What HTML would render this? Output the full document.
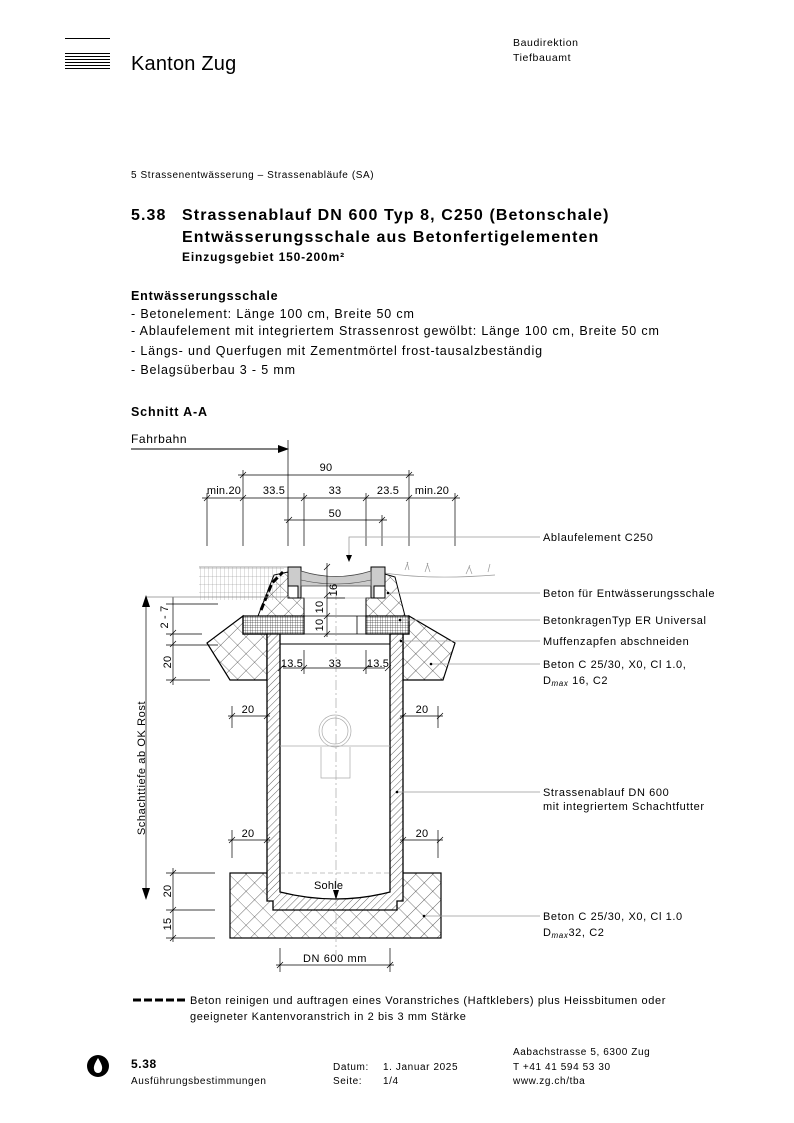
<!DOCTYPE html>
<html><head><meta charset="utf-8"><style>
body{margin:0;background:#fff}
svg{display:block}
text{font-family:"Liberation Sans",sans-serif;fill:#000;letter-spacing:0.6px}
.t16{letter-spacing:1.1px}
.t12{letter-spacing:0.85px}
.dim{letter-spacing:0.2px}
</style></head><body>
<svg width="794" height="1123" viewBox="0 0 794 1123" xmlns="http://www.w3.org/2000/svg">
<defs>
<pattern id="cross" width="12" height="12" patternUnits="userSpaceOnUse" patternTransform="rotate(45)">
<path d="M0 0H12M0 0V12" stroke="#000" stroke-width="0.6"/></pattern>
<pattern id="diag" width="5" height="5" patternUnits="userSpaceOnUse" patternTransform="rotate(45)">
<path d="M0 0V5" stroke="#000" stroke-width="0.6"/></pattern>
<pattern id="grid" width="2.5" height="2.5" patternUnits="userSpaceOnUse">
<path d="M0 0H2.5M0 0V2.5" stroke="#000" stroke-width="0.5"/></pattern>
<pattern id="vert" width="4" height="8" patternUnits="userSpaceOnUse">
<path d="M0 0V8M0 0H4" stroke="#888" stroke-width="0.5"/></pattern>
</defs>
<g stroke="#000" stroke-width="1">
<line x1="65" y1="38.5" x2="110" y2="38.5"/>
<line x1="65" y1="53.5" x2="110" y2="53.5"/><line x1="65" y1="56.5" x2="110" y2="56.5"/>
<line x1="65" y1="59.5" x2="110" y2="59.5"/><line x1="65" y1="62.5" x2="110" y2="62.5"/>
<line x1="65" y1="65.5" x2="110" y2="65.5"/><line x1="65" y1="68.5" x2="110" y2="68.5"/>
</g>
<text x="131" y="70" font-size="20" style="letter-spacing:0.2px">Kanton Zug</text>
<text x="513" y="46" font-size="10.5">Baudirektion</text>
<text x="513" y="61" font-size="10.5">Tiefbauamt</text>
<text x="131" y="178" font-size="10">5 Strassenentwässerung – Strassenabläufe (SA)</text>
<text x="131" y="220" font-size="16" font-weight="bold" class="t16">5.38</text>
<text x="182" y="220" font-size="16" font-weight="bold" class="t16">Strassenablauf DN 600 Typ 8, C250 (Betonschale)</text>
<text x="182" y="242" font-size="16" font-weight="bold" class="t16">Entwässerungsschale aus Betonfertigelementen</text>
<text x="182" y="261" font-size="12" font-weight="bold" class="t12">Einzugsgebiet 150-200m²</text>
<text x="131" y="300" font-size="12.5" font-weight="bold" class="t12">Entwässerungsschale</text>
<text x="131" y="318" font-size="12.5" class="t12">-  Betonelement: Länge 100 cm, Breite 50 cm</text>
<text x="131" y="335" font-size="12.5" class="t12">-  Ablaufelement mit integriertem Strassenrost gewölbt: Länge 100 cm, Breite 50 cm</text>
<text x="131" y="355" font-size="12.5" class="t12">-  Längs- und Querfugen mit Zementmörtel frost-tausalzbeständig</text>
<text x="131" y="374" font-size="12.5" class="t12">-  Belagsüberbau 3 - 5 mm</text>
<text x="131" y="416" font-size="12.5" font-weight="bold" class="t12">Schnitt A-A</text>
<text x="131" y="443" font-size="12">Fahrbahn</text>
<line x1="131" y1="449" x2="288" y2="449" stroke="#000"/>
<path d="M278 445L289 449L278 453Z"/>
<line x1="288" y1="440" x2="288" y2="546" stroke="#000" stroke-width="0.7"/>

<g stroke="#000" stroke-width="0.7" fill="none">
<line x1="238" y1="475" x2="414" y2="475"/>
<line x1="202" y1="498" x2="460" y2="498"/>
<line x1="284" y1="520" x2="387" y2="520"/>
<line x1="243" y1="470" x2="243" y2="546"/><line x1="409" y1="470" x2="409" y2="546"/>
<line x1="207" y1="493" x2="207" y2="546"/><line x1="304" y1="493" x2="304" y2="546"/>
<line x1="366" y1="493" x2="366" y2="546"/><line x1="455" y1="493" x2="455" y2="546"/>
<line x1="382" y1="515" x2="382" y2="546"/>
<path d="M240 478l6-6M406 478l6-6M204 501l6-6M240 501l6-6M301 501l6-6M363 501l6-6M406 501l6-6M452 501l6-6M286 523l6-6M379 523l6-6"/>
</g>
<g font-size="11" text-anchor="middle" class="dim">
<text x="326" y="471" class="dim">90</text>
<text x="224" y="494" class="dim">min.20</text><text x="274" y="494" class="dim">33.5</text>
<text x="335" y="494" class="dim">33</text><text x="388" y="494" class="dim">23.5</text><text x="432" y="494" class="dim">min.20</text>
<text x="335" y="517" class="dim">50</text>
</g>

<rect x="199" y="567" width="85" height="33" fill="url(#vert)"/>
<line x1="199" y1="567" x2="288" y2="567" stroke="#888" stroke-width="0.7"/>
<path d="M385 573 Q430 580 495 575" stroke="#999" fill="none" stroke-width="0.7"/>
<g stroke="#999" stroke-width="0.7" fill="none"><path d="M405 570l3-8M409 570l-2-8M425 572l3-9M430 572l-3-9M466 574l4-9M472 574l-3-8M488 572l2-8"/></g>

<path d="M258 616 L274 575 L288 572 L288 598 L304 598 L304 616Z" fill="url(#cross)" stroke="#000" stroke-width="1"/>
<path d="M405 616 L395 577 L385 574 L385 598 L366 598 L366 616Z" fill="url(#cross)" stroke="#000" stroke-width="1"/>
<path d="M261 610 L272 583 L283 572" stroke="#000" stroke-width="3" stroke-dasharray="7 3" fill="none"/>
<path d="M288 567h13v31h-3v-12h-10z" fill="#ccc" stroke="#000"/>
<path d="M385 567h-14v31h3v-12h11z" fill="#ccc" stroke="#000"/>
<path d="M301 571 Q336 582 371 571 L371 586 L301 586Z" fill="#ccc" stroke="#444" stroke-width="0.7"/>
<path d="M301 580 Q336 588 371 580" stroke="#444" fill="none" stroke-width="0.6"/>
<line x1="301" y1="598" x2="371" y2="598" stroke="#888" stroke-width="0.5"/>

<path d="M243 616 L207 643 L230 680 L267 680 L267 634 L243 634Z" fill="url(#cross)" stroke="#000" stroke-width="1.2"/>
<path d="M409 616 L455 643 L443 680 L403 680 L403 634 L409 634Z" fill="url(#cross)" stroke="#000" stroke-width="1.2"/>
<rect x="243" y="616" width="61" height="18" fill="url(#grid)" stroke="#000" stroke-width="1.2"/>
<rect x="366" y="616" width="43" height="18" fill="url(#grid)" stroke="#000" stroke-width="1.2"/>
<path d="M304 616H366M304 634H366M357 616V634" stroke="#000" stroke-width="0.8"/>

<rect x="230" y="873" width="211" height="65" fill="url(#cross)" stroke="#000" stroke-width="1.2"/>
<!-- shaft interior white -->
<path d="M280 644 H390 V892 Q336 906 280 892Z" fill="#fff"/>
<path d="M267 634 H280 V892 Q336 906 390 892 V634 H403 V901 H397 V910 H273 V901 H267Z" fill="#fff" stroke="none"/>
<path d="M267 634 H280 V892 Q336 906 390 892 V634 H403 V901 H397 V910 H273 V901 H267Z" fill="url(#diag)" stroke="#000" stroke-width="1.3"/>
<line x1="280" y1="644" x2="390" y2="644" stroke="#000" stroke-width="1"/>
<line x1="280" y1="873" x2="390" y2="873" stroke="#888" stroke-width="0.6" stroke-dasharray="5 3"/>
<line x1="336" y1="590" x2="336" y2="960" stroke="#999" stroke-width="0.6" stroke-dasharray="10 3 2 3"/>
<g stroke="#aaa" fill="none" stroke-width="0.7">
<circle cx="335" cy="731" r="16"/><circle cx="335" cy="731" r="13"/>
<path d="M321 747V778H350V747M280 746H390"/>
</g>

<g stroke="#000" stroke-width="0.7" fill="none">
<line x1="283" y1="668" x2="385" y2="668"/>
<path d="M278 671l6-6M301 671l6-6M363 671l6-6M385 671l6-6"/>
<path d="M304 650V674M366 650V674"/>
<line x1="327" y1="563" x2="327" y2="637"/>
<path d="M324 570l6-6M324 598l6-6M324 619l6-6M324 637l6-6"/>
<line x1="327" y1="598" x2="345" y2="598"/>
<line x1="228" y1="716" x2="270" y2="716"/><line x1="400" y1="716" x2="443" y2="716"/>
<line x1="228" y1="840" x2="270" y2="840"/><line x1="400" y1="840" x2="443" y2="840"/>
<path d="M229 719l6-6M264 719l6-6M400 719l6-6M437 719l6-6M229 843l6-6M264 843l6-6M400 843l6-6M437 843l6-6"/>
<path d="M232 706V728M438 706V728M232 830V858M438 830V858"/>
<line x1="173" y1="597" x2="173" y2="685"/>
<path d="M170 636l6-6M170 647l6-6M170 683l6-6M166 634H202M166 645H218M166 680H210M166 604H218"/>
<line x1="173" y1="868" x2="173" y2="942"/>
<path d="M166 873H215M166 910H215M166 938H215M170 876l6-6M170 913l6-6M170 941l6-6"/>
<line x1="146" y1="605" x2="146" y2="890"/>
<line x1="146" y1="597" x2="290" y2="597" stroke="#888"/>
<line x1="276" y1="965" x2="394" y2="965"/>
<path d="M277 968l6-6M387 968l6-6M280 948V972M390 948V972"/>
</g>
<path d="M142 607L146 595L150 607Z"/><path d="M142 888L146 900L150 888Z"/>
<path d="M333 890L339 890L336 900Z"/>
<g font-size="11">
<text x="337" y="590" transform="rotate(-90 337 590)" text-anchor="middle" class="dim">16</text>
<text x="323" y="607" transform="rotate(-90 323 607)" text-anchor="middle" class="dim">10</text>
<text x="323" y="625" transform="rotate(-90 323 625)" text-anchor="middle" class="dim">10</text>
<text x="168" y="617" transform="rotate(-90 168 617)" text-anchor="middle" class="dim">2 - 7</text>
<text x="171" y="662" transform="rotate(-90 171 662)" text-anchor="middle" class="dim">20</text>
<text x="171" y="891" transform="rotate(-90 171 891)" text-anchor="middle" class="dim">20</text>
<text x="171" y="924" transform="rotate(-90 171 924)" text-anchor="middle" class="dim">15</text>
<text x="145" y="768" transform="rotate(-90 145 768)" text-anchor="middle">Schachttiefe ab OK Rost</text>
<text x="292" y="667" text-anchor="middle" class="dim">13.5</text>
<text x="335" y="667" text-anchor="middle" class="dim">33</text>
<text x="378" y="667" text-anchor="middle" class="dim">13.5</text>
<text x="248" y="713" text-anchor="middle" class="dim">20</text><text x="422" y="713" text-anchor="middle" class="dim">20</text>
<text x="248" y="837" text-anchor="middle" class="dim">20</text><text x="422" y="837" text-anchor="middle" class="dim">20</text>
<text x="314" y="889" class="dim">Sohle</text>
<text x="335" y="962" text-anchor="middle">DN 600 mm</text>
</g>

<g stroke="#999" stroke-width="0.8" fill="none">
<path d="M349 557V537H540"/>
<path d="M388 593H540"/><path d="M400 620H540"/><path d="M400 641H540"/>
<path d="M431 664H540"/><path d="M397 792H540"/><path d="M424 916H540"/>
</g>
<path d="M346 555L352 555L349 562Z"/>
<g fill="#000"><circle cx="388" cy="593" r="1.3"/><circle cx="400" cy="620" r="1.3"/><circle cx="401" cy="641" r="1.3"/><circle cx="431" cy="664" r="1.3"/><circle cx="397" cy="792" r="1.3"/><circle cx="424" cy="916" r="1.3"/></g>
<g font-size="11">
<text x="543" y="541">Ablaufelement C250</text>
<text x="543" y="597">Beton für Entwässerungsschale</text>
<text x="543" y="624">BetonkragenTyp ER Universal</text>
<text x="543" y="645">Muffenzapfen abschneiden</text>
<text x="543" y="668">Beton C 25/30, X0, Cl 1.0,</text>
<text x="543" y="684">D<tspan font-size="8" font-style="italic" dy="2">max</tspan><tspan dy="-2"> 16, C2</tspan></text>
<text x="543" y="796">Strassenablauf DN 600</text>
<text x="543" y="810">mit integriertem Schachtfutter</text>
<text x="543" y="920">Beton C 25/30, X0, Cl 1.0</text>
<text x="543" y="936">D<tspan font-size="8" font-style="italic" dy="2">max</tspan><tspan dy="-2">32, C2</tspan></text>
</g>

<line x1="133" y1="1000" x2="186" y2="1000" stroke="#000" stroke-width="3" stroke-dasharray="8 3"/>
<text x="190" y="1004" font-size="11">Beton reinigen und auftragen eines Voranstriches (Haftklebers) plus Heissbitumen oder</text>
<text x="190" y="1020" font-size="11">geeigneter Kantenvoranstrich in 2 bis 3 mm Stärke</text>

<circle cx="98" cy="1066" r="11" fill="#000"/>
<path d="M98 1058 Q93 1066 94 1069 A4 4 0 0 0 102 1069 Q103 1066 98 1058Z" fill="#fff"/>
<text x="131" y="1068" font-size="12" font-weight="bold">5.38</text>
<text x="131" y="1084" font-size="10">Ausführungsbestimmungen</text>
<text x="333" y="1070" font-size="10">Datum:</text><text x="383" y="1070" font-size="10">1. Januar 2025</text>
<text x="333" y="1084" font-size="10">Seite:</text><text x="383" y="1084" font-size="10">1/4</text>
<text x="513" y="1055" font-size="10">Aabachstrasse 5, 6300 Zug</text>
<text x="513" y="1070" font-size="10">T +41 41 594 53 30</text>
<text x="513" y="1084" font-size="10">www.zg.ch/tba</text>
</svg>
</body></html>
